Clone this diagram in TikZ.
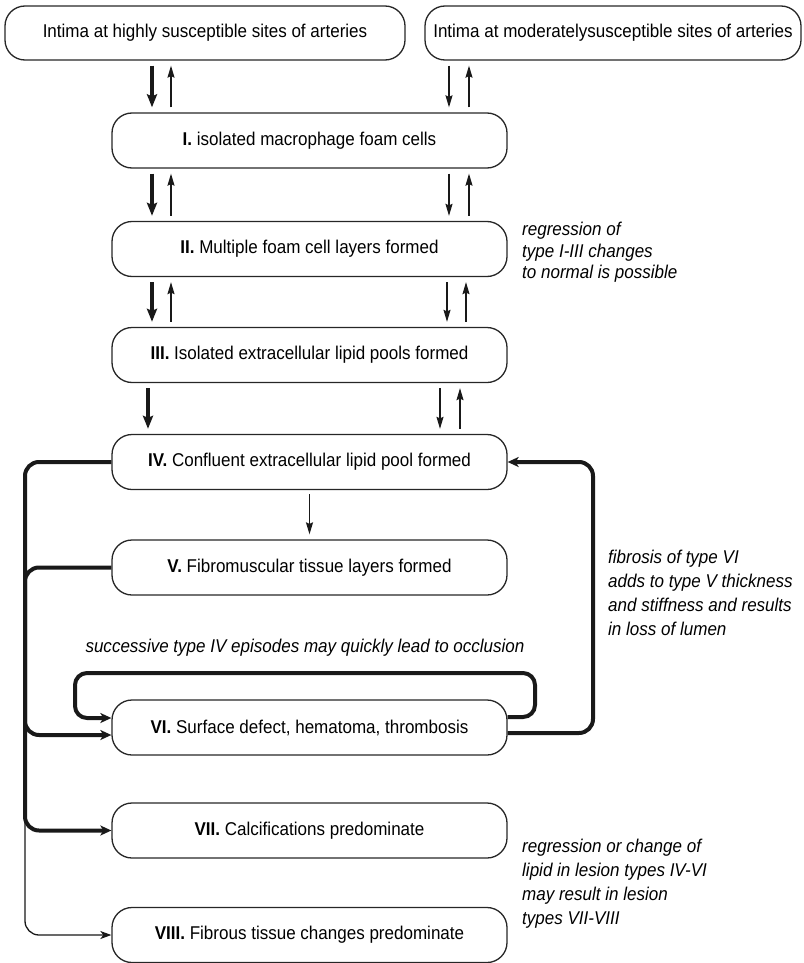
\documentclass[tikz,border=0pt]{standalone}
\usepackage{fontspec}
\setmainfont{Liberation Sans}[FakeStretch=0.92]
\usetikzlibrary{arrows.meta}
\colorlet{boxline}{black!85}
\colorlet{flowline}{black!90}

\begin{document}
\begin{tikzpicture}[x=1pt,y=-1pt,
        stage/.style={draw=boxline, line width=1.3pt, rounded corners=20pt, minimum width=395pt, minimum height=55pt, font=\fontsize{18.5}{22}\selectfont},
        thinarr/.style={draw=flowline, line width=1.3pt, -{Stealth[length=12pt,width=7pt,inset=1.5pt]}, shorten <=5pt, shorten >=5pt},
        thickarr/.style={draw=flowline, line width=4pt, -{Stealth[length=13pt,width=10pt,inset=2pt]}, shorten <=5pt, shorten >=5pt},
        fbline/.style={draw=flowline, line width=4pt, rounded corners=14pt, -{Stealth[length=11pt,width=10pt,inset=3pt]}},
        note/.style={align=left, anchor=north west, inner sep=0pt, font=\fontsize{18.5}{24}\selectfont\itshape}]
        \useasboundingbox (0,0) rectangle (803,963);
        \node[stage, minimum width=400pt, minimum height=54pt] (highly) at (205,33) {Intima at highly susceptible sites of arteries};
        \node[stage, minimum width=376pt, minimum height=54pt] (moderately) at (613,33) {Intima at moderatelysusceptible sites of arteries};
        \foreach \name/\y/\txt in {typeI/140.5/{\textbf{I.} isolated macrophage foam cells},
                typeII/249/{\textbf{II.} Multiple foam cell layers formed},
                typeIII/355/{\textbf{III.} Isolated extracellular lipid pools formed},
                typeIV/462/{\textbf{IV.} Confluent extracellular lipid pool formed},
                typeV/567.5/{\textbf{V.} Fibromuscular tissue layers formed},
                typeVI/727.5/{\textbf{VI.} Surface defect, hematoma, thrombosis},
                typeVII/830.5/{\textbf{VII.} Calcifications predominate},
                typeVIII/935/{\textbf{VIII.} Fibrous tissue changes predominate}}{
            \node[stage] (\name) at (309.5,\y) {\txt};
        }
        \foreach \a/\b in {highly/typeI, typeI/typeII, typeII/typeIII}{
            \draw[thickarr] (\a.south -| 152,0) -- (\b.north -| 152,0);
            \draw[thinarr] (\b.north -| 171,0) -- (\a.south -| 171,0);
        }
        \draw[thickarr] (typeIII.south -| 148,0) -- (typeIV.north -| 148,0);
        \foreach \a/\b/\xd/\xu in {moderately/typeI/449/469, typeI/typeII/449/469, typeII/typeIII/447/466, typeIII/typeIV/440/460}{
            \draw[thinarr] (\a.south -| \xd,0) -- (\b.north -| \xd,0);
            \draw[thinarr] (\b.north -| \xu,0) -- (\a.south -| \xu,0);
        }
        \draw[thinarr] (typeIV) ++(0,27) -- (typeV.north);
        \draw[fbline] (typeVI.east |- 0,733) -- (593,733) -- (593,462) -- (typeIV.east);
        \draw[fbline, rounded corners=12pt] (typeVI.east |- 0,717) -- (535,717) -- (535,673) -- (75,673) -- (75,718) -- (typeVI.west |- 0,718);
        \draw[fbline] (typeIV.west) -- (25,462) -- (25,830.5) -- (typeVII.west);
        \draw[fbline] (typeV.west) -- (25,567.5) -- (25,735) -- (typeVI.west |- 0,735);
        \draw[draw=flowline, line width=1.3pt, rounded corners=14pt, -{Stealth[length=11pt,width=8pt,inset=3pt]}] (25,815) -- (25,935) -- (typeVIII.west);
        \node[note, font=\fontsize{18.5}{21.5}\selectfont\itshape] (regress) at (522,222) {regression of\\type I-III changes\\to normal is possible};
        \node[note] (fibrosis) at (608,550) {fibrosis of type VI\\adds to type V thickness\\and stiffness and results\\in loss of lumen};
        \node[note, anchor=center] (successive) at (305,648) {successive type IV episodes may quickly lead to occlusion};
        \node[note] (lipid) at (522,839) {regression or change of\\lipid in lesion types IV-VI\\may result in lesion\\types VII-VIII};
\end{tikzpicture}
\end{document}
